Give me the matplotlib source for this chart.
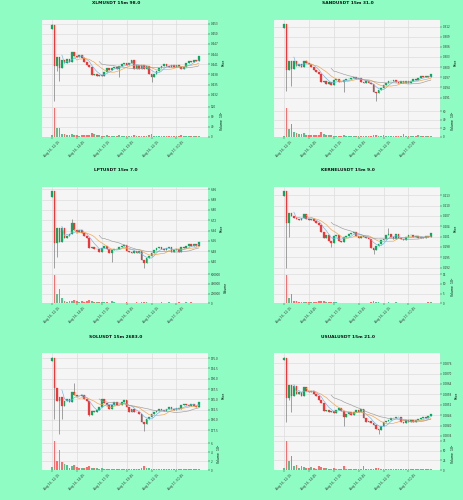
import matplotlib
matplotlib.use('Agg')
import matplotlib.pyplot as plt
import numpy as np
import pandas as pd
from matplotlib.ticker import MaxNLocator

# ---------------- data ----------------
TIME_LABELS = ['Aug 16, 12:15', 'Aug 16, 14:45', 'Aug 16, 17:15',
               'Aug 16, 19:45', 'Aug 16, 22:15', 'Aug 17, 00:45']
TICK_IDX = [0, 10, 20, 30, 40, 50]
MAV = [5, 10, 20]

xlm_title = 'XLMUSDT 15m 98.0'
xlm_open0 = 0.4515
xlm_close = [0.4527, 0.4405, 0.4430, 0.4400, 0.4422, 0.4414, 0.4425, 0.4417, 0.4445, 0.4435,
             0.4430, 0.4437, 0.4428, 0.4418, 0.4408, 0.4402, 0.4378, 0.4381, 0.4375, 0.4379,
             0.4374, 0.4388, 0.4398, 0.4392, 0.4400, 0.4402, 0.4397, 0.4404, 0.4410, 0.4413,
             0.4407, 0.4414, 0.4422, 0.4397, 0.4407, 0.4396, 0.4408, 0.4396, 0.4404, 0.4382,
             0.4372, 0.4382, 0.4390, 0.4400, 0.4405, 0.4410, 0.4406, 0.4402, 0.4408, 0.4402,
             0.4407, 0.4401, 0.4396, 0.4403, 0.4414, 0.4419, 0.4416, 0.4423, 0.4420, 0.4434]
xlm_high = {0: 0.4529}
xlm_low = {0: 0.4513, 1: 0.4302, 2: 0.4390, 3: 0.4360, 27: 0.4372, 40: 0.4357}
xlm_volume = [5, 115, 34, 34, 12, 10, 8, 6, 10, 8,
              5, 4, 8, 5, 6, 5, 15, 12, 6, 5,
              4, 4, 5, 3, 4, 4, 3, 5, 4, 3,
              4, 4, 3, 5, 3, 3, 4, 3, 4, 8,
              10, 4, 4, 3, 3, 3, 4, 3, 3, 4,
              3, 4, 5, 3, 4, 3, 3, 3, 3, 4]
xlm_vlabel = 'Volume  $10^{5}$'

sand_title = 'SANDUSDT 15m 31.0'
sand_open0 = 0.3115
sand_close = [0.3127, 0.2992, 0.3018, 0.2995, 0.3017, 0.3004, 0.3010, 0.3000, 0.3018, 0.3012,
              0.3008, 0.3000, 0.2992, 0.2986, 0.2980, 0.2955, 0.2959, 0.2951, 0.2955, 0.2947,
              0.2962, 0.2965, 0.2957, 0.2955, 0.2961, 0.2964, 0.2965, 0.2968, 0.2972, 0.2964,
              0.2967, 0.2957, 0.2954, 0.2960, 0.2952, 0.2950, 0.2927, 0.2922, 0.2932, 0.2938,
              0.2948, 0.2953, 0.2958, 0.2960, 0.2962, 0.2956, 0.2952, 0.2958, 0.2953, 0.2959,
              0.2953, 0.2959, 0.2966, 0.2962, 0.2968, 0.2973, 0.2970, 0.2973, 0.2970, 0.2979]
sand_high = {0: 0.3128}
sand_low = {1: 0.2930, 3: 0.2945, 24: 0.2925, 37: 0.2900}
sand_volume = [2, 68, 19, 30, 11, 9, 6, 6, 8, 5,
               4, 5, 4, 3, 4, 10, 6, 4, 3, 3,
               2, 2, 2, 2, 4, 2, 1.5, 1.5, 2, 1.5,
               1.5, 2, 1.5, 1.5, 1.5, 2, 4, 5, 2, 2,
               3, 1.5, 1.5, 1.5, 2, 1.5, 1.5, 1.5, 7.5, 2,
               1.5, 1.5, 2, 1.5, 3, 1.5, 1.5, 1.5, 1.5, 1.5]
sand_vlabel = 'Volume  $10^{5}$'

lpt_title = 'LPTUSDT 15m 7.0'
lpt_open0 = 6.900
lpt_close = [6.945, 6.545, 6.660, 6.553, 6.660, 6.580, 6.599, 6.612, 6.695, 6.641,
             6.625, 6.641, 6.620, 6.599, 6.585, 6.505, 6.516, 6.495, 6.500, 6.476,
             6.505, 6.519, 6.495, 6.465, 6.487, 6.497, 6.500, 6.511, 6.521, 6.529,
             6.479, 6.473, 6.468, 6.484, 6.463, 6.479, 6.409, 6.385, 6.428, 6.444,
             6.468, 6.489, 6.505, 6.511, 6.497, 6.489, 6.505, 6.516, 6.476, 6.489,
             6.497, 6.471, 6.511, 6.503, 6.519, 6.532, 6.521, 6.532, 6.524, 6.551]
lpt_high = {0: 6.950, 8: 6.732}
lpt_low = {1: 6.353, 2: 6.433, 24: 6.393, 37: 6.353}
lpt_volume = [13000, 587000, 200000, 300000, 120000, 53000, 33000, 40000, 53000, 67000,
              40000, 33000, 47000, 33000, 53000, 67000, 47000, 33000, 27000, 27000,
              20000, 20000, 20000, 13000, 53000, 20000, 13000, 13000, 13000, 13000,
              20000, 13000, 13000, 13000, 20000, 13000, 33000, 27000, 20000, 13000,
              13000, 13000, 13000, 13000, 20000, 13000, 13000, 20000, 13000, 13000,
              13000, 20000, 13000, 13000, 20000, 13000, 20000, 13000, 13000, 13000]
lpt_vlabel = 'Volume'

kernel_title = 'KERNELUSDT 15m 9.0'
kernel_open0 = 0.2128
kernel_close = [0.2142, 0.2050, 0.2078, 0.2070, 0.2065, 0.2060, 0.2057, 0.2063, 0.2077, 0.2062,
                0.2058, 0.2062, 0.2055, 0.2050, 0.2045, 0.2022, 0.2006, 0.2014, 0.1998, 0.1992,
                0.2013, 0.2015, 0.1998, 0.1995, 0.2008, 0.2013, 0.2018, 0.2021, 0.2024, 0.2012,
                0.2007, 0.2013, 0.2008, 0.2006, 0.2004, 0.1977, 0.1970, 0.1983, 0.1989, 0.1999,
                0.2004, 0.2014, 0.2019, 0.2008, 0.2004, 0.2018, 0.2007, 0.2002, 0.1999, 0.2008,
                0.2014, 0.2015, 0.2010, 0.2012, 0.2006, 0.2009, 0.2006, 0.2013, 0.2009, 0.2021]
kernel_high = {0: 0.2144, 42: 0.2035}
kernel_low = {1: 0.1920, 2: 0.2010, 19: 0.1980, 36: 0.1960}
kernel_volume = [0.2, 14.7, 3.0, 4.7, 1.3, 1.2, 0.7, 0.5, 0.8, 0.7,
                 0.5, 0.5, 0.5, 0.5, 1.0, 1.0, 1.3, 0.7, 0.8, 0.5,
                 0.5, 0.5, 0.35, 0.35, 0.35, 0.35, 0.35, 0.35, 0.35, 0.35,
                 0.35, 0.35, 0.35, 0.35, 0.35, 0.5, 1.3, 0.8, 0.5, 0.35,
                 0.35, 0.35, 0.8, 0.35, 0.35, 0.7, 0.35, 0.35, 0.35, 0.35,
                 0.35, 0.35, 0.35, 0.35, 0.35, 0.35, 0.35, 0.35, 0.5, 0.5]
kernel_vlabel = 'Volume  $10^{6}$'

sol_title = 'SOLUSDT 15m 2683.0'
sol_open0 = 194.25
sol_close = [195.00, 187.75, 184.67, 185.58, 183.33, 184.67, 185.17, 184.33, 186.83, 186.17,
             185.92, 185.75, 186.00, 185.00, 184.50, 181.17, 182.25, 181.92, 182.50, 183.25,
             185.17, 184.08, 183.67, 182.58, 183.50, 184.33, 183.67, 183.58, 184.25, 184.75,
             183.08, 182.00, 182.67, 182.00, 181.92, 181.50, 179.58, 179.08, 180.33, 180.75,
             181.42, 181.83, 182.25, 182.67, 182.42, 182.25, 182.67, 183.25, 182.58, 182.50,
             182.92, 182.58, 183.50, 183.92, 183.67, 183.42, 183.92, 183.42, 183.25, 184.33]
sol_high = {0: 195.25, 9: 189.00}
sol_low = {1: 180.25, 3: 176.50, 4: 180.25, 15: 180.83, 37: 177.33}
sol_volume = [0.70, 6.45, 2.10, 4.60, 1.75, 1.26, 1.05, 0.56, 0.84, 1.05,
              0.70, 0.56, 0.42, 0.56, 0.70, 0.84, 0.56, 0.42, 0.35, 0.28,
              0.35, 0.28, 0.21, 0.28, 0.21, 0.21, 0.14, 0.21, 0.14, 0.14,
              0.21, 0.28, 0.21, 0.21, 0.14, 0.14, 0.35, 0.84, 0.42, 0.35,
              0.28, 0.14, 0.14, 0.14, 0.14, 0.14, 0.14, 0.14, 0.21, 0.14,
              0.14, 0.14, 0.21, 0.14, 0.14, 0.21, 0.14, 0.14, 0.14, 0.14]
sol_vlabel = 'Volume  $10^{5}$'

usual_title = 'USUALUSDT 15m 21.0'
usual_open0 = 0.08776
usual_close = [0.08790, 0.08560, 0.08634, 0.08570, 0.08630, 0.08584, 0.08594, 0.08568, 0.08624, 0.08600,
               0.08592, 0.08602, 0.08582, 0.08568, 0.08546, 0.08532, 0.08484, 0.08488, 0.08478, 0.08486,
               0.08472, 0.08488, 0.08502, 0.08484, 0.08452, 0.08466, 0.08478, 0.08462, 0.08476, 0.08488,
               0.08478, 0.08494, 0.08446, 0.08422, 0.08428, 0.08412, 0.08406, 0.08378, 0.08372, 0.08400,
               0.08418, 0.08428, 0.08434, 0.08442, 0.08444, 0.08448, 0.08450, 0.08422, 0.08412, 0.08432,
               0.08418, 0.08434, 0.08422, 0.08432, 0.08436, 0.08442, 0.08448, 0.08442, 0.08458, 0.08464]
usual_high = {0: 0.08794}
usual_low = {1: 0.08420, 2: 0.08550, 3: 0.08480, 24: 0.08400, 38: 0.08350}
usual_volume = [4.8, 73.6, 24, 36, 9.6, 12, 6.4, 9.6, 8, 4.8,
                6.4, 8, 4, 3.2, 9.6, 8, 6.4, 4, 3.2, 2.4,
                4, 3.2, 2.4, 1.6, 9.6, 2.4, 1.6, 2.4, 1.6, 1.6,
                2.4, 1.6, 9.6, 3.2, 2.4, 1.6, 2.4, 4, 4.8, 3.2,
                2.4, 1.6, 1.6, 1.6, 1.6, 1.6, 1.6, 2.4, 1.6, 1.6,
                2.4, 1.6, 2.4, 1.6, 1.6, 1.6, 1.6, 1.6, 1.6, 1.6]
usual_vlabel = 'Volume  $10^{5}$'

charts = [
    (xlm_title, xlm_open0, xlm_close, xlm_high, xlm_low, xlm_volume, xlm_vlabel),
    (sand_title, sand_open0, sand_close, sand_high, sand_low, sand_volume, sand_vlabel),
    (lpt_title, lpt_open0, lpt_close, lpt_high, lpt_low, lpt_volume, lpt_vlabel),
    (kernel_title, kernel_open0, kernel_close, kernel_high, kernel_low, kernel_volume, kernel_vlabel),
    (sol_title, sol_open0, sol_close, sol_high, sol_low, sol_volume, sol_vlabel),
    (usual_title, usual_open0, usual_close, usual_high, usual_low, usual_volume, usual_vlabel),
]

# ---------------- style ----------------
BG = '#8ffcc4'
FACE = '#f5f5f5'
GRID = '#d8d8d8'
UP = '#00b060'
DOWN = '#fe3032'
VUP = '#4dc790'
VDOWN = '#fd6b6c'
WICK = '#707070'
MAV_COLORS = ['#6cb4e4', '#f5a142', '#9c9c9c']

W, H = 464.0, 500.0
fig = plt.figure(figsize=(W / 100, H / 100), dpi=100, facecolor=BG)


def rect(x0, y0, x1, y1):
    return [x0 / W, 1 - y1 / H, (x1 - x0) / W, (y1 - y0) / H]


def style_axis(ax):
    ax.set_facecolor(FACE)
    for s in ax.spines.values():
        s.set_visible(False)
    ax.grid(True, color=GRID, linewidth=0.4)
    ax.set_axisbelow(True)
    ax.yaxis.tick_right()
    ax.yaxis.set_label_position('right')
    ax.tick_params(axis='both', labelsize=2.0, length=1.2, width=0.3, pad=1, colors='#333333')


for i, (title, open0, close, hi_w, lo_w, vol, vlabel) in enumerate(charts):
    row, col = divmod(i, 2)
    ox = col * 232.0
    oy = row * H / 3
    axp = fig.add_axes(rect(ox + 42, oy + 20, ox + 208, oy + 104))
    axv = fig.add_axes(rect(ox + 42, oy + 104, ox + 208, oy + 136.7), sharex=axp)
    fig.text((ox + 116) / W, 1 - (oy + 3.5) / H, title, ha='center', va='center',
             fontsize=3.2, fontweight='bold', color='#111111')

    c = np.array(close, dtype=float)
    o = np.concatenate([[open0], c[:-1]])
    n = len(c)
    x = np.arange(n)
    top = np.maximum(o, c)
    bot = np.minimum(o, c)
    h = top.copy()
    l = bot.copy()
    for k, v in hi_w.items():
        h[k] = v
    for k, v in lo_w.items():
        l[k] = v
    up = c >= o
    rng = h.max() - l.min()
    bodyh = np.maximum(top - bot, rng * 0.004)

    style_axis(axp)
    style_axis(axv)
    axp.vlines(x, l, h, color=WICK, linewidth=0.45, zorder=2)
    axp.bar(x, bodyh, bottom=bot, width=0.7, color=np.where(up, UP, DOWN),
            edgecolor=np.where(up, UP, DOWN), linewidth=0.2, zorder=3)
    s = pd.Series(c)
    for w, mc in zip(MAV, MAV_COLORS):
        axp.plot(x, s.rolling(w).mean(), color=mc, linewidth=0.45, zorder=4)
    axp.set_ylim(l.min() - rng * 0.04, h.max() + rng * 0.05)
    axp.yaxis.set_major_locator(MaxNLocator(9))
    axp.set_ylabel('Price', fontsize=2.2, labelpad=2)

    axv.bar(x, vol, width=0.7, color=np.where(up, VUP, VDOWN), zorder=3)
    axv.set_ylim(0, max(vol) * 1.14)
    axv.yaxis.set_major_locator(MaxNLocator(4, prune='upper'))
    axv.set_ylabel(vlabel, fontsize=2.2, labelpad=2)

    axp.set_xlim(-4, n + 2.7)
    axp.set_xticks(TICK_IDX)
    plt.setp(axp.get_xticklabels(), visible=False)
    axv.set_xticks(TICK_IDX)
    axv.set_xticklabels(TIME_LABELS, rotation=45, ha='center', fontsize=2.2)

fig.savefig('out.png', dpi=100, facecolor=BG)
